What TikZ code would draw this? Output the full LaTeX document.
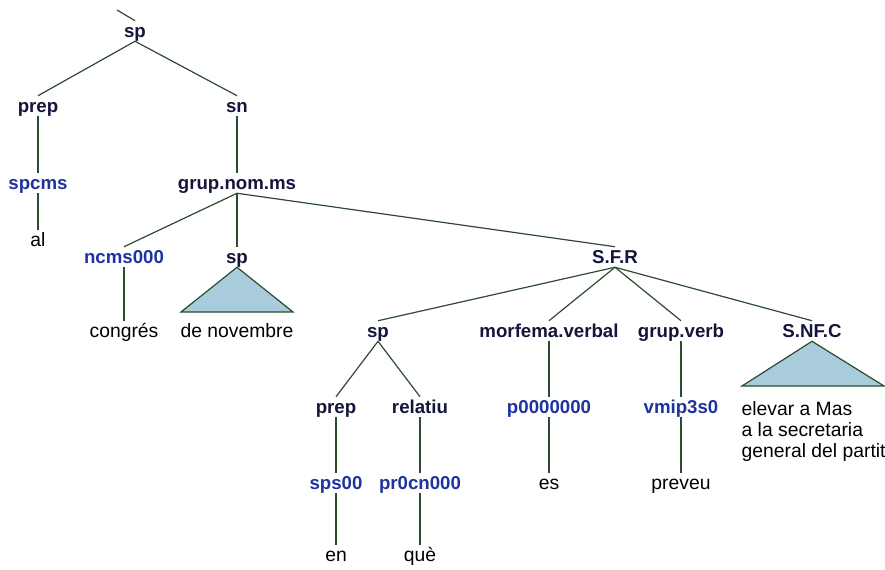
\documentclass[tikz,border=0pt]{standalone}
\usepackage{fontspec}
\setmainfont{Liberation Sans}
\usetikzlibrary{positioning}
\definecolor{catcol}{HTML}{14143C}
\definecolor{tagcol}{HTML}{1E32A0}
\definecolor{linecol}{HTML}{2D4B2D}
\definecolor{trifill}{HTML}{A8CCDC}

\begin{document}
\begin{tikzpicture}[x=0.75pt, y=-0.75pt,
  cat/.style={font=\fontsize{14}{16}\selectfont\bfseries, text=catcol,
    inner sep=1pt, text height=11.5pt, text depth=1.5pt},
  tag/.style={cat, text=tagcol},
  word/.style={font=\fontsize{14.5}{16}\selectfont, text=black,
    inner sep=1pt, text height=11.5pt, text depth=1.5pt},
  branch/.style={draw=linecol, line width=0.9pt},
  roof/.style={draw=linecol, line width=0.9pt, fill=trifill}]

  \useasboundingbox (0,0) rectangle (885,570);

  % --- Level 1 ---
  \node[cat] (sp) at (135,31) {sp};
  \coordinate (stub) at (117,10);

  % --- Level 2 ---
  \node[cat] (prep) at (38,106) {prep};
  \node[cat] (sn) at (237,106) {sn};

  % --- Level 3 ---
  \node[tag] (spcms) at (38,183) {spcms};
  \node[cat] (gnom) at (237,183) {grup.nom.ms};

  % --- Level 4 ---
  \node[word] (al) at (38,240) {al};
  \node[tag] (ncms) at (124,257) {ncms000};
  \node[cat] (spB) at (237,257) {sp};
  \node[cat] (sfr) at (615,257) {S.F.R};

  % --- Level 5 ---
  \node[word] (congres) at (124,331) {congrés};
  \node[word] (novembre) at (237,331) {de novembre};
  \node[cat] (spC) at (378,331) {sp};
  \node[cat] (morf) at (549,331) {morfema.verbal};
  \node[cat] (gverb) at (681,331) {grup.verb};
  \node[cat] (snfc) at (812,331) {S.NF.C};

  % --- Level 6 ---
  \node[cat] (prepB) at (336,407) {prep};
  \node[cat] (relatiu) at (420,407) {relatiu};
  \node[tag] (p0) at (549,407) {p0000000};
  \node[tag] (vmip) at (681,407) {vmip3s0};
  \node[word, align=left, anchor=north west, text height=, text depth=,
    font=\fontsize{14.5}{15.75}\selectfont] (elevar) at (740,400)
    {elevar a Mas\\a la secretaria\\general del partit};

  % --- Level 7 ---
  \node[tag] (sps) at (336,483) {sps00};
  \node[tag] (pr0) at (420,483) {pr0cn000};
  \node[word] (es) at (549,483) {es};
  \node[word] (preveu) at (681,483) {preveu};

  % --- Level 8 ---
  \node[word] (en) at (336,555) {en};
  \node[word] (que) at (420,555) {què};

  % --- Branches ---
  \draw[branch] (stub) -- (sp.north);
  \draw[branch] (sp.south) -- (prep.north);
  \draw[branch] (sp.south) -- (sn.north);
  \draw[branch] (prep) -- (spcms);
  \draw[branch] (spcms) -- (al);
  \draw[branch] (sn) -- (gnom);
  \draw[branch] (gnom.south) -- (ncms.north);
  \draw[branch] (gnom.south) -- (spB.north);
  \draw[branch] (gnom.south) -- (sfr.north);
  \draw[branch] (ncms) -- (congres);
  \draw[branch] (sfr.south) -- (spC.north);
  \draw[branch] (sfr.south) -- (morf.north);
  \draw[branch] (sfr.south) -- (gverb.north);
  \draw[branch] (sfr.south) -- (snfc.north);
  \draw[branch] (spC.south) -- (prepB.north);
  \draw[branch] (spC.south) -- (relatiu.north);
  \draw[branch] (prepB) -- (sps);
  \draw[branch] (sps) -- (en);
  \draw[branch] (relatiu) -- (pr0);
  \draw[branch] (pr0) -- (que);
  \draw[branch] (morf) -- (p0);
  \draw[branch] (p0) -- (es);
  \draw[branch] (gverb) -- (vmip);
  \draw[branch] (vmip) -- (preveu);

  % --- Roofs ---
  \draw[roof] (spB.south) -- (293,312) -- (181,312) -- cycle;
  \draw[roof] (snfc.south) -- (884,386) -- (742,386) -- cycle;

\end{tikzpicture}
\end{document}
